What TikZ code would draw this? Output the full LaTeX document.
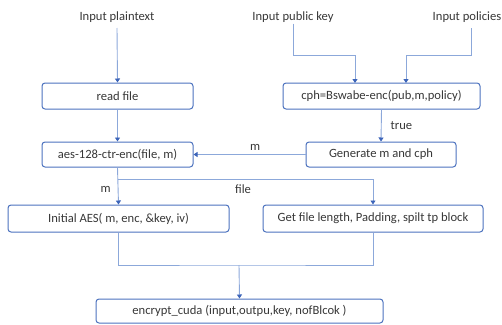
\documentclass[tikz,border=0pt]{standalone}
\usepackage{fontspec}
\setmainfont{Carlito}
\usetikzlibrary{arrows.meta}
\definecolor{boxblue}{RGB}{76,114,190}
\definecolor{lineblue}{RGB}{140,168,218}
\definecolor{tipblue}{RGB}{60,100,185}
\definecolor{txt}{RGB}{55,55,55}
\tikzset{
  stepbox/.style={draw=boxblue, line width=1pt, rounded corners=3pt, inner sep=0pt, font=\fontsize{12.6}{14}\selectfont, text=txt},
  lbl/.style={font=\fontsize{12.6}{14}\selectfont, text=txt, inner sep=1pt},
  conn/.style={draw=lineblue, line width=0.9pt},
  arr/.style={conn, -{Triangle[width=5pt,length=4pt,fill=tipblue,color=tipblue]}},
}
\begin{document}
\begin{tikzpicture}[x=1pt,y=-1pt]
\useasboundingbox (0,0) rectangle (502,324);
% inputs
\node[lbl] (pt) at (117,17) {Input plaintext};
\node[lbl] (pk) at (293,17) {Input public key};
\node[lbl] (pol) at (467,17) {Input policies};
% boxes
\node[stepbox, minimum width=151pt, minimum height=26pt] (read) at (117.5,96) {read file};
\node[stepbox, minimum width=151pt, minimum height=25pt] (aes) at (117.5,154.5) {aes-128-ctr-enc(file, m)};
\node[stepbox, minimum width=197pt, minimum height=26pt] (cph) at (381.5,96) {cph=Bswabe-enc(pub,m,policy)};
\node[stepbox, minimum width=150pt, minimum height=25pt] (gen) at (381,154.5) {Generate m and cph};
\node[stepbox, minimum width=221pt, minimum height=27pt] (init) at (118.5,218.5) {Initial AES( m, enc, \&key, iv)};
\node[stepbox, minimum width=220pt, minimum height=27pt] (get) at (373,218.5) {Get file length, Padding, spilt tp block};
\node[stepbox, minimum width=287pt, minimum height=24pt] (enc) at (239.5,311) {encrypt\_cuda (input,outpu,key, nofBlcok )};
% helper points
\coordinate (pkturn) at (293,55);
\coordinate (polturn) at (471,55);
\coordinate (split) at (117.5,179);
\coordinate (join) at (239,265);
% connectors
\draw[arr] (pt.south |- 0,28) -- (read.north);
\draw[arr] (read.south) -- (aes.north);
\draw[arr] (pk.south) -- (pkturn) -| (355,83);
\draw[arr] (471,28) -- (polturn) -| (406,83);
\draw[arr] (cph.south) -- node[lbl, right=8pt] {true} (gen.north);
\draw[arr] (gen.west) -- node[lbl, above=3pt, pos=0.45] {m} (aes.east);
\draw[arr] (aes.south) -- node[lbl, left=6pt, pos=0.6] {m} (init.north);
\draw[arr] (split) -| (get.north);
\node[lbl] (filelbl) at (243,189) {file};
\draw[conn] (init.south) |- (join) -| (get.south);
\draw[arr] (join) -- (enc.north);
\end{tikzpicture}
\end{document}
